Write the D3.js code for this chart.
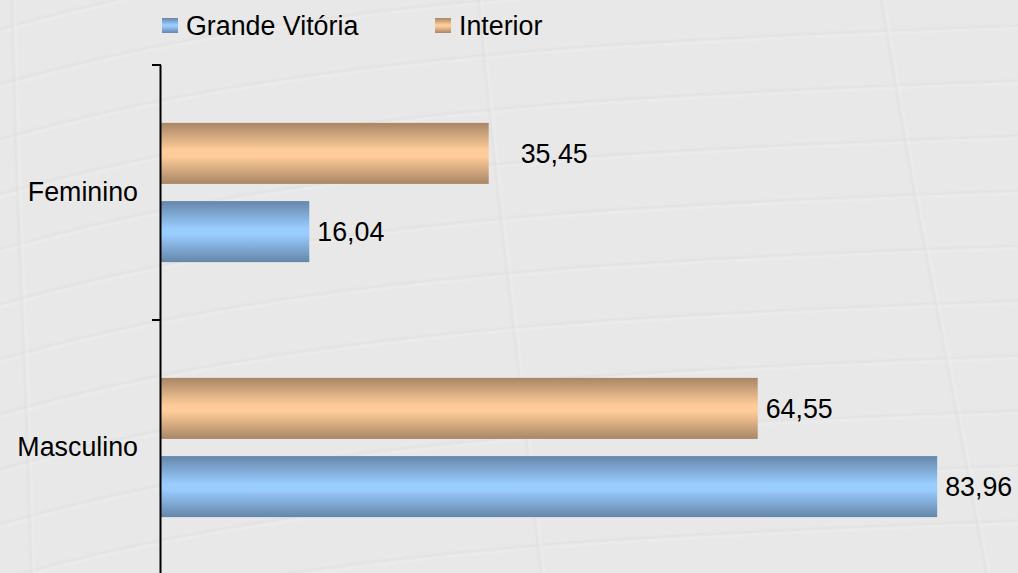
<!DOCTYPE html>
<html>
<head>
<meta charset="utf-8">
<script src="https://cdn.jsdelivr.net/npm/d3@7"></script>
<style>
  html, body { margin: 0; padding: 0; background: #e8e8e8; }
  svg { display: block; }
  text { font-family: "Liberation Sans", Arial, sans-serif; fill: #000; }
</style>
</head>
<body>
<svg id="chart"></svg>
<script>
// chart data
var categories = ["Feminino", "Masculino"];
var seriesNames = ["Interior", "Grande Vitória"];   // top to bottom inside each group
var interior = [35.45, 64.55];
var grandeVitoria = [16.04, 83.96];
var legendNames = ["Grande Vitória", "Interior"];

// page size
var svgWidth = 1018;
var svgHeight = 573;
var fontSize = "26.8px";

var svg = d3.select("#chart")
    .attr("width", svgWidth)
    .attr("height", svgHeight);

// colours: edge (dark) and middle (light) of each gradient
var colors = {
    "Grande Vitória": { edge: "#6586a9", mid: "#99ccff" },
    "Interior": { edge: "#a88665", mid: "#ffcc99" }
};

var defs = svg.append("defs");
seriesNames.forEach(function (s, i) {
    var g = defs.append("linearGradient")
        .attr("id", "grad" + i)
        .attr("x1", 0).attr("y1", 0).attr("x2", 0).attr("y2", 1);
    g.append("stop").attr("offset", "0%").attr("stop-color", colors[s].edge);
    g.append("stop").attr("offset", "45%").attr("stop-color", colors[s].mid);
    g.append("stop").attr("offset", "55%").attr("stop-color", colors[s].mid);
    g.append("stop").attr("offset", "100%").attr("stop-color", colors[s].edge);
});
defs.append("filter").attr("id", "soft")
    .append("feGaussianBlur").attr("stdDeviation", 1.2);

//Background with faint curved texture
svg.append("rect")
    .attr("width", svgWidth)
    .attr("height", svgHeight)
    .attr("fill", "#e8e8e8");

var bgLine = d3.line().curve(d3.curveBasis);
var texture = svg.append("g").attr("fill", "none").attr("filter", "url(#soft)");
for (var k = 0; k < 14; k++) {
    var y0 = -60 + k * 55;
    var pts = [[-20, y0 + 95], [160, y0 + 45], [520, y0 - 5], [1040, y0 - 25]];
    texture.append("path")
        .attr("d", bgLine(pts))
        .attr("stroke", "#d8d8d8")
        .attr("stroke-width", 2)
        .attr("opacity", 0.6);
    texture.append("path")
        .attr("d", bgLine(pts.map(function (p) { return [p[0], p[1] + 2]; })))
        .attr("stroke", "#f3f3f3")
        .attr("stroke-width", 1.5)
        .attr("opacity", 0.7);
}
[12, 478, 880].forEach(function (x0, k) {
    var pts = [[x0, -10], [x0 + 5 + k * 15, 200], [x0 + 15 + k * 30, 400], [x0 + 20 + k * 45, 590]];
    texture.append("path")
        .attr("d", bgLine(pts))
        .attr("stroke", "#d8d8d8")
        .attr("stroke-width", 2)
        .attr("opacity", 0.6);
    texture.append("path")
        .attr("d", bgLine(pts.map(function (p) { return [p[0] + 2, p[1]]; })))
        .attr("stroke", "#f3f3f3")
        .attr("stroke-width", 1.5)
        .attr("opacity", 0.7);
});

//Scales
var axisX = 161;
var x = d3.scaleLinear([0, 90], [axisX, 993]);
var y = d3.scaleBand(categories, [65, 575]);
var ySeries = d3.scaleBand(seriesNames, [0, y.bandwidth()])
    .paddingInner(0.22)
    .paddingOuter(0.74);

var rows = [];
categories.forEach(function (c, i) {
    rows.push({ cat: c, series: "Interior", value: interior[i] });
    rows.push({ cat: c, series: "Grande Vitória", value: grandeVitoria[i] });
});

//Bars
svg.append("g").selectAll("rect")
    .data(rows)
    .enter()
    .append("rect")
        .attr("x", x(0))
        .attr("y", function (d) { return y(d.cat) + ySeries(d.series); })
        .attr("width", function (d) { return x(d.value) - x(0); })
        .attr("height", ySeries.bandwidth())
        .attr("fill", function (d) { return "url(#grad" + seriesNames.indexOf(d.series) + ")"; });

//Value labels (the Feminino / Interior label sits further out in the original)
function labelShift(d) {
    return (d.cat === "Feminino" && d.series === "Interior") ? 32 : 8;
}
svg.append("g").selectAll("text")
    .data(rows)
    .enter()
    .append("text")
        .attr("x", function (d) { return x(d.value) + labelShift(d); })
        .attr("y", function (d) { return y(d.cat) + ySeries(d.series) + ySeries.bandwidth() / 2; })
        .attr("dy", "0.35em")
        .style("font-size", fontSize)
        .text(function (d) { return d3.format(".2f")(d.value).replace(".", ","); });

//Y axis
var yAxis = d3.axisLeft(y).tickSize(0).tickPadding(23);
var yAxisG = svg.append("g")
    .attr("transform", "translate(" + axisX + ",0)")
    .call(yAxis);
yAxisG.select(".domain").remove();
yAxisG.selectAll("text")
    .style("font-size", fontSize)
    .style("font-family", "Liberation Sans, Arial, sans-serif");

svg.append("line")
    .attr("x1", axisX - 0.5).attr("x2", axisX - 0.5)
    .attr("y1", y.range()[0]).attr("y2", y.range()[1])
    .attr("stroke", "#000")
    .attr("stroke-width", 2);

// ticks between categories
var boundaries = categories.map(function (c) { return y(c); });
svg.append("g").selectAll("line")
    .data(boundaries)
    .enter()
    .append("line")
        .attr("x1", axisX - 9).attr("x2", axisX)
        .attr("y1", function (d) { return d; })
        .attr("y2", function (d) { return d; })
        .attr("stroke", "#000")
        .attr("stroke-width", 2);

//Legend
var legendX = [162, 435];
var legend = svg.append("g").selectAll("g")
    .data(legendNames)
    .enter()
    .append("g")
        .attr("transform", function (d, i) { return "translate(" + legendX[i] + ",18)"; });
legend.append("rect")
    .attr("width", 16)
    .attr("height", 15)
    .attr("fill", function (d) { return "url(#grad" + seriesNames.indexOf(d) + ")"; });
legend.append("text")
    .attr("x", 24)
    .attr("y", 7.5)
    .attr("dy", "0.35em")
    .style("font-size", fontSize)
    .text(function (d) { return d; });
</script>
</body>
</html>
